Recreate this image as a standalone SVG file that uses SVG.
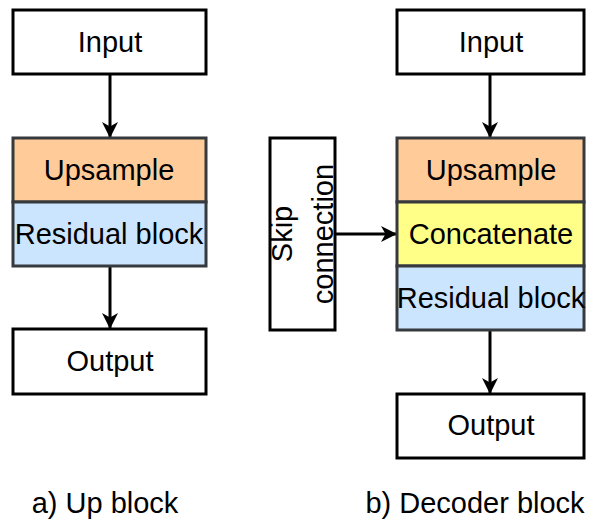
<svg xmlns="http://www.w3.org/2000/svg" width="589" height="519" viewBox="0 0 589 519">
<style>
text{font-family:"Liberation Sans",Arial,sans-serif;font-size:29px;fill:#000;text-anchor:middle}
.w{fill:#fff;stroke:#000;stroke-width:3}
.o{fill:#ffcc99;stroke:#36393d;stroke-width:3}
.y{fill:#ffff88;stroke:#36393d;stroke-width:3}
.b{fill:#cce5ff;stroke:#36393d;stroke-width:3}
.c{stroke:#000;stroke-width:3;fill:none}
</style>
<defs>
<marker id="ah" viewBox="0 0 16 16" refX="15" refY="8" markerWidth="16" markerHeight="16" markerUnits="userSpaceOnUse" orient="auto">
<path d="M0,0 L16,8 L0,16 L4.5,8 Z" fill="#000"/>
</marker>
</defs>
<rect width="589" height="519" fill="#fff"/>
<g id="connectors">
<line class="c" x1="110" y1="74" x2="110" y2="137" marker-end="url(#ah)"/>
<line class="c" x1="110" y1="266" x2="110" y2="328" marker-end="url(#ah)"/>
<line class="c" x1="490" y1="74" x2="490" y2="137" marker-end="url(#ah)"/>
<line class="c" x1="490" y1="330" x2="490" y2="393" marker-end="url(#ah)"/>
<line class="c" x1="335" y1="234" x2="396" y2="234" marker-end="url(#ah)"/>
</g>
<g id="a-input"><rect class="w" x="13" y="10" width="193" height="64"/><text x="110" y="52">Input</text></g>
<g id="a-upsample"><rect class="o" x="13" y="138" width="193" height="64"/><text x="109" y="180">Upsample</text></g>
<g id="a-residual"><rect class="b" x="13" y="202" width="193" height="64"/><text x="109" y="244">Residual block</text></g>
<g id="a-output"><rect class="w" x="13" y="329" width="193" height="65"/><text x="110" y="371">Output</text></g>
<g id="skip"><rect class="w" x="270" y="138" width="65" height="192"/><text transform="translate(0,234) rotate(-90)" x="0" y="292">Skip</text><text transform="translate(0,234) rotate(-90)" x="0" y="333">connection</text></g>
<g id="b-input"><rect class="w" x="397" y="10" width="187" height="64"/><text x="491" y="52">Input</text></g>
<g id="b-upsample"><rect class="o" x="397" y="138" width="187" height="64"/><text x="491" y="180">Upsample</text></g>
<g id="b-concat"><rect class="y" x="397" y="202" width="187" height="64"/><text x="491" y="244">Concatenate</text></g>
<g id="b-residual"><rect class="b" x="397" y="266" width="187" height="64"/><text x="491" y="308">Residual block</text></g>
<g id="b-output"><rect class="w" x="397" y="394" width="187" height="64"/><text x="491" y="435">Output</text></g>
<text x="105" y="513">a) Up block</text>
<text x="475" y="513">b) Decoder block</text>
</svg>
